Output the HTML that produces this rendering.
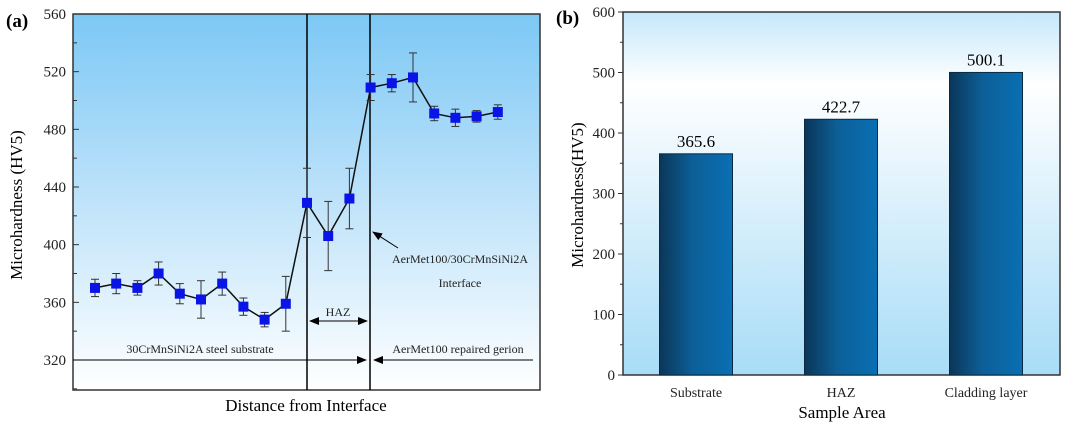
<!DOCTYPE html>
<html><head><meta charset="utf-8"><style>
body{margin:0;background:#fff;}
svg{display:block;font-family:"Liberation Serif",serif;}
</style></head><body>
<svg id="s" width="1080" height="427" viewBox="0 0 1080 427">
<defs>
<linearGradient id="gl" x1="0" y1="0" x2="0" y2="1"><stop offset="0" stop-color="#7cc8f5"/><stop offset="0.5" stop-color="#bfe3fa"/><stop offset="1" stop-color="#ffffff"/></linearGradient>
<linearGradient id="gr" x1="0" y1="0" x2="0" y2="1"><stop offset="0" stop-color="#c5e8fb"/><stop offset="0.2" stop-color="#ffffff"/><stop offset="1" stop-color="#a8dcf7"/></linearGradient>
<linearGradient id="gb" x1="0" y1="0" x2="1" y2="0"><stop offset="0" stop-color="#0b3658"/><stop offset="0.45" stop-color="#0c5f97"/><stop offset="1" stop-color="#0a6fb3"/></linearGradient>
<marker id="ah" markerWidth="10" markerHeight="8" refX="9" refY="4" orient="auto"><path d="M0,0 L10,4 L0,8 Z" fill="#000"/></marker>
</defs>
<g id="left"></g>
<g id="right"></g>
</svg>
<script>
const NS="http://www.w3.org/2000/svg";
// Panel (a) data
const aValues=[370,373,370,380,366,362,373,357,348,359,429,406,432,509,512,516,491,488,489,492];
const aErrors=[6,7,5,8,7,13,8,6,5,19,24,24,21,9,6,17,5,6,4,5];
const aTicks=[320,360,400,440,480,520,560];
// Panel (b) data
const bCategories=["Substrate","HAZ","Cladding layer"];
const bValues=[365.6,422.7,500.1];
const bTicks=[0,100,200,300,400,500,600];

function el(tag,attrs,parent,text){const e=document.createElementNS(NS,tag);for(const k in attrs)e.setAttribute(k,attrs[k]);if(text!=null)e.textContent=text;parent.appendChild(e);return e;}
const L=document.getElementById('left'),R=document.getElementById('right');

// ----- left panel
const ax0=73,ax1=540,ay0=14,ay1=390;
const ya=v=>360-(v-320)*(346/240);
const xa=i=>95+i*21.2;
let e;
e=el('rect',{x:ax0,y:ay0,width:ax1-ax0,height:ay1-ay0,fill:'url(#gl)',stroke:'#333','stroke-width':1.5},L);


aTicks.forEach(t=>{
  el('line',{x1:ax0,x2:ax0+6,y1:ya(t),y2:ya(t),stroke:'#333'},L);
  el('line',{x1:ax0,x2:ax0+4,y1:ya(t+20),y2:ya(t+20),stroke:'#333'},L);
  const tx=el('text',{x:ax0-7,y:ya(t)+5,'text-anchor':'end','font-size':15,fill:'#222'},L,t);
  
  
});
el('line',{x1:ax0,x2:ax0+4,y1:ya(300),y2:ya(300),stroke:'#333'},L);
e=el('text',{x:0,y:0,transform:'translate(22,205) rotate(-90)','text-anchor':'middle','font-size':17},L,'Microhardness (HV5)');


e=el('text',{x:306,y:411,'text-anchor':'middle','font-size':17},L,'Distance from Interface');


e=el('text',{x:6,y:27,'font-size':19,'font-weight':'bold'},L,'(a)');


// region lines
el('line',{x1:307,x2:307,y1:ay0,y2:ay1,stroke:'#000','stroke-width':1.5},L);
el('line',{x1:370,x2:370,y1:ay0,y2:ay1,stroke:'#000','stroke-width':1.5},L);
el('line',{x1:ax0,x2:366,y1:360,y2:360,stroke:'#000','marker-end':'url(#ah)'},L);
el('line',{x1:533,x2:374,y1:360,y2:360,stroke:'#000','marker-end':'url(#ah)'},L);
el('line',{x1:338,x2:310,y1:321,y2:321,stroke:'#000','marker-end':'url(#ah)'},L);
el('line',{x1:338,x2:367,y1:321,y2:321,stroke:'#000','marker-end':'url(#ah)'},L);
el('line',{x1:398,x2:373,y1:248,y2:232,stroke:'#000','marker-end':'url(#ah)'},L);
[['30CrMnSiNi2A steel substrate',200,353],['HAZ',338,316],['AerMet100 repaired gerion',458,353],['AerMet100/30CrMnSiNi2A',460,263],['Interface',460,287]].forEach(a=>{
  const t=el('text',{x:a[1],y:a[2],'text-anchor':'middle','font-size':12,fill:'#222'},L,a[0]);
  
  
});
// series
const pts=aValues.map((v,i)=>xa(i)+','+ya(v)).join(' ');
e=el('polyline',{points:pts,fill:'none',stroke:'#111','stroke-width':1.5},L);


aValues.forEach((v,i)=>{
  const x=xa(i),t=ya(v+aErrors[i]),b=ya(v-aErrors[i]);
  const g=el('g',{},L);
  
  
  el('line',{x1:x,x2:x,y1:t,y2:b,stroke:'#333'},g);
  el('line',{x1:x-4,x2:x+4,y1:t,y2:t,stroke:'#333'},g);
  el('line',{x1:x-4,x2:x+4,y1:b,y2:b,stroke:'#333'},g);
  const p=el('rect',{x:x-5,y:ya(v)-5,width:10,height:10,fill:'#0a14e6'},L);
  
  
});

// ----- right panel
const bx0=623,bx1=1060,by0=12,by1=375;
const yb=v=>by1-v*(by1-by0)/600;
const xb=i=>696+i*145;
e=el('rect',{x:bx0,y:by0,width:bx1-bx0,height:by1-by0,fill:'url(#gr)',stroke:'#333','stroke-width':1.5},R);


bTicks.forEach(t=>{
  el('line',{x1:bx0-5,x2:bx0,y1:yb(t),y2:yb(t),stroke:'#333'},R);
  if(t<600)el('line',{x1:bx0-3,x2:bx0,y1:yb(t+50),y2:yb(t+50),stroke:'#333'},R);
  const tx=el('text',{x:bx0-8,y:yb(t)+5,'text-anchor':'end','font-size':15,fill:'#222'},R,t);
  
  
});
e=el('text',{x:0,y:0,transform:'translate(583,195) rotate(-90)','text-anchor':'middle','font-size':17},R,'Microhardness(HV5)');


e=el('text',{x:842,y:418,'text-anchor':'middle','font-size':17},R,'Sample Area');


e=el('text',{x:556,y:24,'font-size':19,'font-weight':'bold'},R,'(b)');


bValues.forEach((v,i)=>{
  const x=xb(i);
  const r=el('rect',{x:x-36.5,y:yb(v),width:73,height:by1-yb(v),fill:'url(#gb)',stroke:'#0a2a44','stroke-width':1},R);
  
  
  const l=el('text',{x:x,y:yb(v)-7,'text-anchor':'middle','font-size':17},R,v.toFixed(1));
  
  
  const c=el('text',{x:x,y:397,'text-anchor':'middle','font-size':14,fill:'#222'},R,bCategories[i]);
  
  
});
</script>
</body></html>
